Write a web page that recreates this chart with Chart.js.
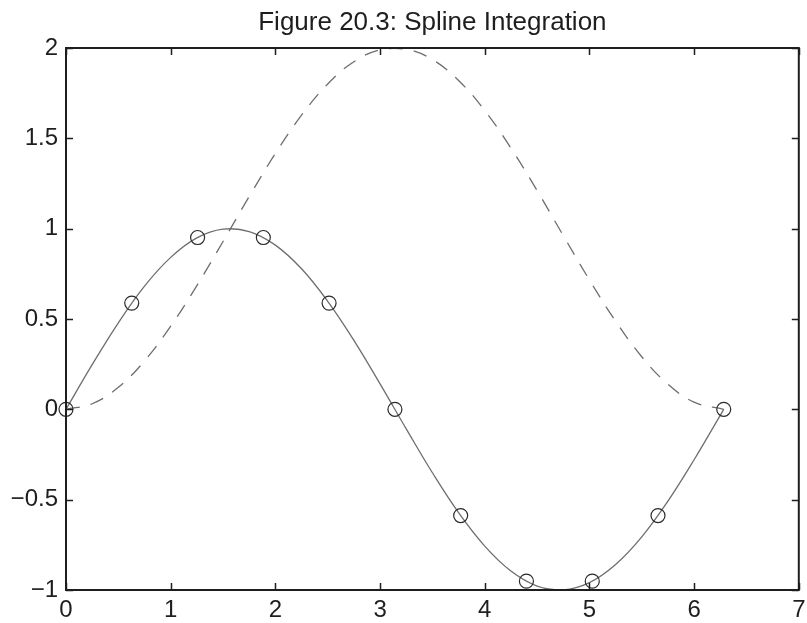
<!DOCTYPE html>
<html>
<head>
<meta charset="utf-8">
<script src="https://cdn.jsdelivr.net/npm/chart.js@4/dist/chart.umd.min.js"></script>
<style>
  html, body { margin: 0; padding: 0; background: #fff; }
  #wrap { width: 807px; height: 623px; }
</style>
</head>
<body>
<div id="wrap"><canvas id="fig"></canvas></div>
<script>
// values
const knotX = [0, 0.628, 1.257, 1.885, 2.513, 3.142, 3.770, 4.398, 5.027, 5.655, 6.283];
const knotY = [0, 0.588, 0.951, 0.951, 0.588, 0, -0.588, -0.951, -0.951, -0.588, 0];

const curveX = [0, 0.25, 0.5, 0.75, 1.0, 1.25, 1.5, 1.75, 2.0, 2.25, 2.5, 2.75, 3.0, 3.25,
                3.5, 3.75, 4.0, 4.25, 4.5, 4.75, 5.0, 5.25, 5.5, 5.75, 6.0, 6.283];
const splineY = [0, 0.247, 0.479, 0.682, 0.841, 0.949, 0.997, 0.984, 0.909, 0.778, 0.598, 0.382, 0.141, -0.108,
                 -0.351, -0.572, -0.757, -0.895, -0.978, -0.999, -0.959, -0.859, -0.706, -0.508, -0.279, 0];
const integralY = [0, 0.031, 0.122, 0.268, 0.460, 0.685, 0.929, 1.178, 1.416, 1.628, 1.801, 1.924, 1.990, 1.994,
                   1.936, 1.820, 1.654, 1.446, 1.211, 0.962, 0.716, 0.488, 0.291, 0.139, 0.040, 0];

const xTicks = [0, 1, 2, 3, 4, 5, 6, 7];
const yTicks = [-1, -0.5, 0, 0.5, 1, 1.5, 2];
const titleText = 'Figure 20.3: Spline Integration';

const pts = (xs, ys) => xs.map((x, i) => ({ x: x, y: ys[i] }));

// box around the axes with inward ticks, plus the title
const framePlugin = {
    id: 'frame',
    afterDraw(chart) {
        const ctx = chart.ctx;
        const a = chart.chartArea;
        const xs = chart.scales.x, ys = chart.scales.y;
        ctx.save();
        ctx.strokeStyle = '#1e1e1e';
        ctx.lineWidth = 2;
        ctx.strokeRect(a.left, a.top, a.right - a.left, a.bottom - a.top);
        ctx.lineWidth = 1.5;
        ctx.beginPath();
        xTicks.forEach(v => {
            const px = Math.round(xs.getPixelForValue(v)) + 0.5;
            ctx.moveTo(px, a.bottom); ctx.lineTo(px, a.bottom - 7);
            ctx.moveTo(px, a.top); ctx.lineTo(px, a.top + 7);
        });
        yTicks.forEach(v => {
            const py = Math.round(ys.getPixelForValue(v)) + 0.5;
            ctx.moveTo(a.left, py); ctx.lineTo(a.left + 7, py);
            ctx.moveTo(a.right, py); ctx.lineTo(a.right - 7, py);
        });
        ctx.stroke();

        ctx.fillStyle = '#1e1e1e';
        ctx.font = '26px "Liberation Sans", Arial, sans-serif';
        ctx.textAlign = 'center';
        ctx.textBaseline = 'alphabetic';
        ctx.fillText(titleText, (a.left + a.right) / 2, 30);
        ctx.restore();
    }
};

new Chart(document.getElementById('fig'), {
    type: 'scatter',
    data: {
        datasets: [
            {
                label: 'knots',
                data: pts(knotX, knotY),
                showLine: false,
                pointRadius: 7,
                pointBorderWidth: 1.2,
                pointBorderColor: '#2a2a2a',
                pointBackgroundColor: 'rgba(0,0,0,0)',
                clip: false
            },
            {
                label: 'spline',
                data: pts(curveX, splineY),
                showLine: true,
                borderColor: '#6e6e6e',
                borderWidth: 1.3,
                pointRadius: 0,
                tension: 0.4
            },
            {
                label: 'integral',
                data: pts(curveX, integralY),
                showLine: true,
                borderColor: '#6e6e6e',
                borderWidth: 1.3,
                borderDash: [14, 11],
                pointRadius: 0,
                tension: 0.4
            }
        ]
    },
    options: {
        responsive: true,
        maintainAspectRatio: false,
        animation: false,
        layout: { padding: { left: 0, right: 6, top: 48, bottom: 0 } },
        plugins: {
            legend: { display: false },
            tooltip: { enabled: false },
            title: { display: false }
        },
        scales: {
            x: {
                type: 'linear',
                min: 0,
                max: 7,
                afterBuildTicks: s => { s.ticks = xTicks.map(v => ({ value: v })); },
                afterFit: s => { s.height = 33; s.paddingLeft = 0; s.paddingRight = 0; },
                grid: { display: false, drawTicks: false },
                border: { display: false },
                ticks: {
                    padding: 6,
                    color: '#1e1e1e',
                    font: { family: '"Liberation Sans", Arial, sans-serif', size: 24 },
                    callback: v => String(v)
                }
            },
            y: {
                type: 'linear',
                min: -1,
                max: 2,
                afterBuildTicks: s => { s.ticks = yTicks.map(v => ({ value: v })); },
                afterFit: s => { s.width = 66; s.paddingTop = 0; s.paddingBottom = 0; },
                grid: { display: false, drawTicks: false },
                border: { display: false },
                ticks: {
                    padding: 8,
                    color: '#1e1e1e',
                    font: { family: '"Liberation Sans", Arial, sans-serif', size: 24 },
                    callback: v => String(v).replace('-', '\u2212')
                }
            }
        }
    },
    plugins: [framePlugin]
});
</script>
</body>
</html>
